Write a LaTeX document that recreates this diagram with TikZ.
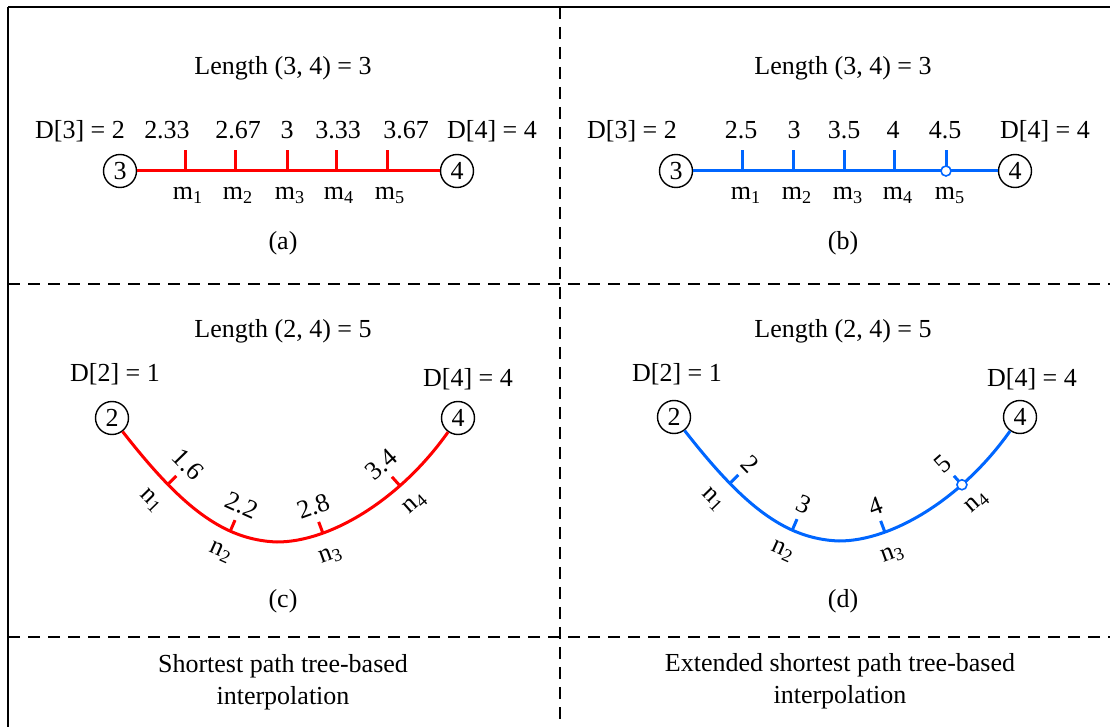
\documentclass[tikz,border=0pt]{standalone}
\usepackage{fontspec}
\setmainfont{Liberation Serif}
\usetikzlibrary{calc}
\definecolor{lred}{RGB}{255,0,0}
\definecolor{lblue}{RGB}{0,102,255}

\begin{document}
\begin{tikzpicture}[x=0.5pt, y=-0.5pt, font=\fontsize{13}{16}\selectfont,
		vnode/.style={draw, circle, line width=0.7pt, minimum size=16.5pt, inner sep=0pt},
		redline/.style={draw=lred, line width=1.5pt},
		blueline/.style={draw=lblue, line width=1.5pt},
		dashline/.style={line width=0.7pt, dash pattern=on 6pt off 4pt},
		lab/.style={anchor=base, inner sep=0pt},
		numlab/.style={sloped, above=8pt, inner sep=1pt},
		sublab/.style={sloped, below=6pt, inner sep=1pt},
		opendot/.style={draw=lblue, fill=white, line width=0.8pt, circle, inner sep=0pt, minimum size=5pt}]
		\useasboundingbox (0,0) rectangle (1110,727);
		% frame
		\draw[line width=1.3pt] (8,7) -- (1110,7);
		\draw[line width=0.8pt] (8,7) -- (8,727);
		\draw[dashline] (560,7) -- (560,727);
		\draw[dashline] (8,284) -- (1110,284);
		\draw[dashline] (8,637) -- (1110,637);
		% (a)
		\node[lab] (a-title) at (283,75) {Length (3, 4) = 3};
		\node[lab] (a-d3) at (80,139) {D[3] = 2};
		\node[lab] (a-d4) at (492,139) {D[4] = 4};
		\node[vnode] (a3) at (120,171) {3};
		\node[vnode] (a4) at (457,171) {4};
		\draw[redline] (a3) -- (a4);
		\foreach \i/\x/\lx/\v in {1/185/167/2.33, 2/235/238/2.67, 3/287/287/3, 4/336/338/3.33, 5/387/406/3.67}{
			\coordinate (a-m\i) at (\x,171);
			\coordinate (a-t\i) at (\x,150);
			\draw[redline] (a-m\i) -- (a-t\i);
			\node[lab] (a-v\i) at (\lx,139) {\v};
			\node[lab] (a-l\i) at (\x+3,200) {m\textsubscript{\i}};
		}
		\node[lab] (a-cap) at (283,250) {(a)};
		% (b)
		\node[lab] (b-title) at (843,75) {Length (3, 4) = 3};
		\node[lab] (b-d3) at (632,139) {D[3] = 2};
		\node[lab] (b-d4) at (1045,139) {D[4] = 4};
		\node[vnode] (b3) at (676,171) {3};
		\node[vnode] (b4) at (1015,171) {4};
		\draw[blueline] (b3) -- (b4);
		\foreach \i/\x/\lx/\v in {1/742/741/2.5, 2/793/794/3, 3/844/844/3.5, 4/894/893/4, 5/946/945/4.5}{
			\coordinate (b-m\i) at (\x,171);
			\coordinate (b-t\i) at (\x,150);
			\draw[blueline] (b-m\i) -- (b-t\i);
			\node[lab] (b-v\i) at (\lx,139) {\v};
			\node[lab] (b-l\i) at (\x+4,200) {m\textsubscript{\i}};
		}
		\node[opendot] (b-o5) at (b-m5) {};
		\node[lab] (b-cap) at (843,250) {(b)};
		% (c)
		\node[lab] (c-title) at (283,338) {Length (2, 4) = 5};
		\node[lab] (c-d2) at (115,382) {D[2] = 1};
		\node[lab] (c-d4) at (468,387) {D[4] = 4};
		\node[vnode] (c2) at (112,418) {2};
		\node[vnode] (c4) at (458,418) {4};
		\draw[redline] (c2) .. controls (180,505) and (222,540) .. (277,542)
			coordinate[pos=.28] (c-n1) coordinate[pos=.30] (c-e1)
			node[numlab, pos=.28] (c-v1) {1.6} node[sublab, pos=.28] (c-l1) {n\textsubscript{1}}
			coordinate[pos=.70] (c-n2) coordinate[pos=.72] (c-e2)
			node[numlab, pos=.70] (c-v2) {2.2} node[sublab, pos=.70] (c-l2) {n\textsubscript{2}}
			.. controls (330,542) and (400,500) .. (c4)
			coordinate[pos=.27] (c-n3) coordinate[pos=.29] (c-e3)
			node[numlab, pos=.27] (c-v3) {2.8} node[sublab, pos=.27] (c-l3) {n\textsubscript{3}}
			coordinate[pos=.70] (c-n4) coordinate[pos=.72] (c-e4)
			node[numlab, pos=.70] (c-v4) {3.4} node[sublab, pos=.70] (c-l4) {n\textsubscript{4}};
		\foreach \i in {1,...,4}
			\draw[redline] (c-n\i) -- ($(c-n\i)!6pt!90:(c-e\i)$);
		\node[lab] (c-cap) at (283,608) {(c)};
		% (d)
		\begin{scope}[shift={(562,-1)}]
			\node[lab] (d-title) at (281,339) {Length (2, 4) = 5};
			\node[lab] (d-d2) at (115,383) {D[2] = 1};
			\node[lab] (d-d4) at (470,388) {D[4] = 4};
			\node[vnode] (d2) at (112,418) {2};
			\node[vnode] (d4) at (458,418) {4};
			\draw[blueline] (d2) .. controls (180,505) and (222,540) .. (277,542)
				coordinate[pos=.28] (d-n1) coordinate[pos=.30] (d-e1)
				node[numlab, pos=.28] (d-v1) {2} node[sublab, pos=.28] (d-l1) {n\textsubscript{1}}
				coordinate[pos=.70] (d-n2) coordinate[pos=.72] (d-e2)
				node[numlab, pos=.70] (d-v2) {3} node[sublab, pos=.70] (d-l2) {n\textsubscript{2}}
				.. controls (330,542) and (400,500) .. (d4)
				coordinate[pos=.27] (d-n3) coordinate[pos=.29] (d-e3)
				node[numlab, pos=.27] (d-v3) {4} node[sublab, pos=.27] (d-l3) {n\textsubscript{3}}
				coordinate[pos=.70] (d-n4) coordinate[pos=.72] (d-e4)
				node[numlab, pos=.70] (d-v4) {5} node[sublab, pos=.70] (d-l4) {n\textsubscript{4}};
			\foreach \i in {1,...,4}
				\draw[blueline] (d-n\i) -- ($(d-n\i)!6pt!90:(d-e\i)$);
			\node[opendot] (d-o4) at (d-n4) {};
			\node[lab] (d-cap) at (281,609) {(d)};
		\end{scope}
		% bottom row
		\node[align=center] (c-text) at (283,682) {Shortest path tree-based\\interpolation};
		\node[align=center] (d-text) at (840,681) {Extended shortest path tree-based\\interpolation};
	\end{tikzpicture}
\end{document}
